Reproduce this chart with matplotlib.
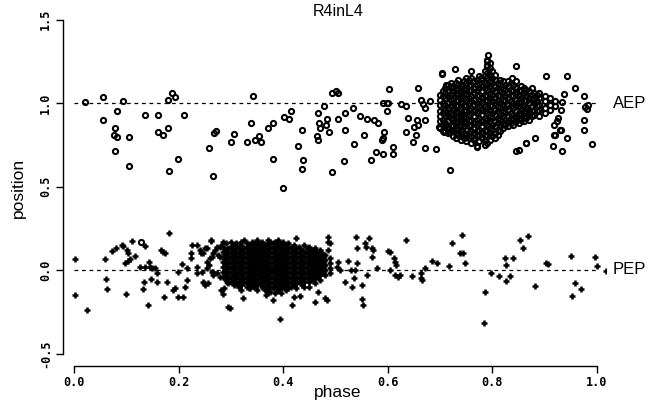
import matplotlib
matplotlib.use("Agg")
import matplotlib.pyplot as plt

# scattered AEP points (phase, position)
aep_phase = [0.021, 0.055, 0.056, 0.082, 0.078, 0.077, 0.083, 0.078, 0.094, 0.105,
             0.106, 0.136, 0.161, 0.160, 0.170, 0.179, 0.179, 0.188, 0.194, 0.211,
             0.199, 0.182, 0.259, 0.268, 0.272, 0.266, 0.301, 0.305, 0.129, 0.342,
             0.338, 0.331, 0.346, 0.354, 0.358, 0.370, 0.381, 0.381, 0.400, 0.402,
             0.412, 0.415, 0.435, 0.429, 0.438, 0.435, 0.467, 0.469, 0.470, 0.481,
             0.465, 0.467, 0.484, 0.488, 0.478, 0.493, 0.501, 0.504, 0.493, 0.505,
             0.518, 0.519, 0.517, 0.533, 0.536, 0.546, 0.554, 0.560, 0.567, 0.574,
             0.582, 0.577, 0.590, 0.593, 0.591, 0.588, 0.602, 0.590, 0.598, 0.601,
             0.598, 0.609, 0.609, 0.625, 0.634, 0.639, 0.634, 0.649, 0.655, 0.658,
             0.651, 0.654, 0.671, 0.671, 0.693, 0.658, 0.663, 0.668, 0.671, 0.681,
             0.698, 0.708, 0.719, 0.719, 0.704, 0.728, 0.771, 0.792, 0.790, 0.789,
             0.846, 0.846, 0.864, 0.881, 0.902, 0.915, 0.918, 0.931, 0.926, 0.934,
             0.942, 0.942, 0.958, 0.937, 0.934, 0.932, 0.975, 0.977, 0.983, 0.980,
             0.975, 0.975, 0.990, 0.712, 0.760, 0.779, 0.837, 0.767, 0.770, 0.709,
             0.850, 0.917, 0.923, 0.929, 0.920, 0.864, 0.703]
aep_pos = [1.008, 1.034, 0.900, 0.952, 0.849, 0.808, 0.798, 0.713, 1.012, 0.795,
           0.621, 0.926, 0.926, 0.826, 0.808, 0.849, 1.018, 1.058, 1.038, 0.926,
           0.665, 0.595, 0.731, 0.818, 0.830, 0.565, 0.768, 0.812, 0.170, 1.042,
           0.882, 0.768, 0.778, 0.802, 0.765, 0.852, 0.882, 0.665, 0.493, 0.914,
           0.904, 0.950, 0.838, 0.744, 0.659, 0.605, 0.938, 0.878, 0.852, 0.868,
           0.802, 0.778, 0.902, 0.824, 0.984, 1.058, 1.074, 1.058, 0.589, 0.902,
           0.942, 0.838, 0.654, 0.968, 0.753, 0.924, 0.808, 0.902, 0.657, 0.898,
           0.878, 0.709, 0.695, 0.824, 0.788, 0.778, 1.082, 1.002, 0.998, 0.998,
           0.954, 0.735, 0.695, 0.992, 0.984, 0.913, 0.828, 0.765, 0.898, 0.866,
           0.854, 0.808, 0.898, 0.729, 0.725, 1.088, 1.018, 0.994, 0.968, 1.012,
           0.854, 0.828, 0.824, 0.599, 1.174, 1.202, 0.735, 1.287, 1.257, 1.228,
           1.222, 0.714, 0.759, 0.788, 1.162, 0.743, 0.808, 0.838, 0.908, 0.713,
           0.788, 1.162, 1.088, 1.054, 1.008, 0.958, 1.042, 0.978, 0.988, 0.962,
           0.898, 0.838, 0.753, 1.110, 1.190, 1.150, 1.150, 0.790, 0.740, 0.830,
           0.720, 0.870, 0.890, 0.840, 0.810, 0.760, 1.180]

# dense AEP cloud, one column of positions per phase value
aep_cloud_phase = [0.700, 0.705, 0.710, 0.715, 0.720, 0.725, 0.730, 0.735, 0.740, 0.745,
                   0.750, 0.755, 0.760, 0.765, 0.770, 0.775, 0.780, 0.785, 0.790, 0.795,
                   0.800, 0.805, 0.810, 0.815, 0.820, 0.825, 0.830, 0.835, 0.840, 0.845,
                   0.850, 0.855, 0.860, 0.865, 0.870, 0.875, 0.880, 0.885, 0.890, 0.900,
                   0.910, 0.920]
aep_cloud_pos = [
    [0.85, 0.89, 0.92, 0.95, 0.99, 1.02, 1.05],
    [0.83, 0.87, 0.90, 0.94, 0.97, 1.00, 1.04, 1.07],
    [0.86, 0.88, 0.92, 0.96, 0.99, 1.03, 1.06, 1.09],
    [0.82, 0.85, 0.89, 0.93, 0.97, 1.00, 1.04, 1.08, 1.11],
    [0.84, 0.87, 0.91, 0.94, 0.98, 1.02, 1.05, 1.09, 1.12],
    [0.80, 0.83, 0.86, 0.90, 0.93, 0.96, 1.00, 1.03, 1.07, 1.10],
    [0.79, 0.82, 0.85, 0.89, 0.92, 0.95, 0.99, 1.02, 1.06, 1.09, 1.12],
    [0.81, 0.84, 0.88, 0.91, 0.94, 0.98, 1.01, 1.05, 1.08, 1.11, 1.14],
    [0.78, 0.80, 0.83, 0.87, 0.90, 0.93, 0.97, 1.00, 1.04, 1.07, 1.10],
    [0.79, 0.82, 0.86, 0.89, 0.92, 0.96, 0.99, 1.03, 1.06, 1.09, 1.13],
    [0.77, 0.81, 0.84, 0.88, 0.91, 0.95, 0.98, 1.02, 1.05, 1.08, 1.12, 1.15],
    [0.79, 0.82, 0.86, 0.89, 0.93, 0.96, 1.00, 1.03, 1.07, 1.10, 1.14],
    [0.76, 0.80, 0.83, 0.87, 0.90, 0.94, 0.97, 1.01, 1.04, 1.08, 1.11, 1.15],
    [0.78, 0.82, 0.85, 0.88, 0.92, 0.95, 0.99, 1.02, 1.06, 1.09, 1.13],
    [0.80, 0.83, 0.87, 0.90, 0.94, 0.97, 1.00, 1.04, 1.07, 1.11, 1.14],
    [0.77, 0.81, 0.84, 0.88, 0.91, 0.95, 0.98, 1.02, 1.05, 1.09, 1.12, 1.16],
    [0.79, 0.82, 0.86, 0.89, 0.93, 0.96, 1.00, 1.03, 1.07, 1.10, 1.14],
    [0.75, 0.78, 0.81, 0.84, 0.88, 0.91, 0.95, 0.98, 1.02, 1.05, 1.09, 1.12, 1.16, 1.19],
    [0.76, 0.80, 0.83, 0.87, 0.90, 0.94, 0.97, 1.01, 1.04, 1.08, 1.11, 1.15, 1.18, 1.22, 1.25],
    [0.78, 0.82, 0.85, 0.89, 0.92, 0.96, 0.99, 1.03, 1.06, 1.10, 1.13, 1.17, 1.21, 1.24],
    [0.80, 0.84, 0.87, 0.91, 0.94, 0.98, 1.01, 1.05, 1.08, 1.12, 1.15, 1.19],
    [0.79, 0.82, 0.86, 0.89, 0.93, 0.96, 1.00, 1.03, 1.07, 1.10, 1.14, 1.17],
    [0.81, 0.84, 0.88, 0.91, 0.95, 0.98, 1.02, 1.05, 1.09, 1.12],
    [0.83, 0.86, 0.90, 0.93, 0.97, 1.00, 1.04, 1.07, 1.11, 1.14],
    [0.85, 0.88, 0.92, 0.95, 0.99, 1.02, 1.06, 1.09, 1.13],
    [0.87, 0.90, 0.94, 0.97, 1.01, 1.04, 1.08, 1.11],
    [0.86, 0.89, 0.92, 0.96, 0.99, 1.03, 1.06, 1.10, 1.13],
    [0.88, 0.91, 0.94, 0.98, 1.01, 1.05, 1.08, 1.12],
    [0.87, 0.90, 0.93, 0.97, 1.00, 1.04, 1.07, 1.11],
    [0.89, 0.92, 0.95, 0.99, 1.02, 1.06, 1.09, 1.13],
    [0.88, 0.91, 0.94, 0.98, 1.01, 1.05, 1.08],
    [0.90, 0.93, 0.96, 1.00, 1.03, 1.07, 1.10],
    [0.89, 0.92, 0.95, 0.99, 1.02, 1.06, 1.09],
    [0.91, 0.94, 0.97, 1.01, 1.04, 1.08],
    [0.90, 0.93, 0.96, 1.00, 1.03, 1.07],
    [0.92, 0.95, 0.98, 1.02, 1.05, 1.09],
    [0.93, 0.96, 1.00, 1.03, 1.06],
    [0.95, 0.98, 1.01, 1.05],
    [0.92, 0.96, 0.99, 1.03, 1.06],
    [0.94, 0.97, 1.01, 1.04],
    [0.96, 0.99, 1.03],
    [0.98, 1.01],
]

# scattered PEP points
pep_phase = [0.001, 0.001, 0.024, 0.059, 0.061, 0.064, 0.072, 0.080, 0.091, 0.094,
             0.101, 0.104, 0.098, 0.104, 0.107, 0.110, 0.117, 0.099, 0.136, 0.126,
             0.136, 0.144, 0.145, 0.149, 0.155, 0.158, 0.133, 0.131, 0.147, 0.158,
             0.141, 0.166, 0.171, 0.174, 0.182, 0.177, 0.173, 0.190, 0.193, 0.198,
             0.206, 0.198, 0.209, 0.212, 0.217, 0.217, 0.224, 0.226, 0.235, 0.223,
             0.235, 0.236, 0.244, 0.241, 0.246, 0.254, 0.261, 0.266, 0.270, 0.273,
             0.279, 0.284, 0.279, 0.247, 0.250, 0.257, 0.266, 0.273, 0.254, 0.260,
             0.295, 0.287, 0.284, 0.262, 0.276, 0.282, 0.280, 0.292, 0.282, 0.249,
             0.255, 0.263, 0.266, 0.242, 0.250, 0.263, 0.259,
             0.424, 0.486, 0.485, 0.489, 0.486, 0.324, 0.298, 0.393, 0.416, 0.433,
             0.461, 0.480, 0.483, 0.467, 0.380, 0.370, 0.368, 0.340, 0.337, 0.505,
             0.502, 0.509, 0.523, 0.518, 0.529, 0.537, 0.541, 0.539, 0.542, 0.556,
             0.558, 0.565, 0.569, 0.572, 0.569, 0.535, 0.531, 0.550, 0.560, 0.550,
             0.553, 0.579, 0.601, 0.604, 0.611, 0.613, 0.615, 0.604, 0.614, 0.620,
             0.623, 0.635, 0.646, 0.663, 0.663, 0.665, 0.671, 0.684, 0.695, 0.717,
             0.723, 0.741, 0.738, 0.744, 0.748, 0.785, 0.783, 0.797, 0.813, 0.826,
             0.834, 0.824, 0.826, 0.839, 0.852, 0.858, 0.869, 0.881, 0.902, 0.906,
             0.951, 0.958, 0.969, 0.953, 0.997, 1.000, 1.017, 0.421, 0.311]
pep_pos = [0.064, -0.150, -0.240, 0.068, -0.052, -0.116, 0.114, 0.130, 0.150, 0.144,
           0.120, 0.100, 0.040, 0.054, 0.064, 0.176, 0.084, -0.146, 0.144, 0.020,
           0.020, 0.050, 0.020, 0.010, 0.010, -0.020, -0.070, -0.116, -0.054, -0.070,
           -0.210, 0.120, 0.110, 0.100, 0.220, -0.070, -0.164, -0.120, -0.110, -0.010,
           0.036, -0.164, -0.164, -0.104, -0.060, 0.010, 0.100, 0.150, 0.150, 0.070,
           0.020, -0.020, -0.010, 0.120, 0.100, 0.130, 0.176, 0.100, 0.120, 0.140,
           0.140, 0.170, 0.080, -0.070, -0.090, -0.080, -0.010, -0.020, 0.050, 0.070,
           -0.220, -0.110, -0.144, 0.180, 0.090, 0.146, -0.040, -0.070, -0.120, -0.080,
           0.010, -0.010, -0.030, 0.100, 0.130, 0.080, 0.030,
           0.194, 0.196, 0.170, 0.160, 0.120, -0.166, -0.226, -0.295, -0.210, -0.156,
           -0.190, -0.170, -0.180, -0.130, -0.180, -0.130, -0.150, -0.090, -0.110, 0.050,
           0.020, 0.000, 0.054, -0.070, 0.000, 0.000, 0.040, 0.196, 0.130, 0.160,
           0.140, 0.194, 0.130, 0.120, 0.080, -0.050, -0.100, -0.090, -0.030, -0.176,
           -0.210, 0.010, 0.116, 0.110, 0.070, 0.050, 0.030, 0.000, -0.030, -0.040,
           -0.030, 0.180, -0.034, -0.020, -0.050, -0.060, 0.010, 0.056, 0.040, 0.024,
           0.164, 0.210, 0.100, 0.100, 0.040, -0.130, -0.316, -0.020, -0.036, -0.064,
           -0.034, 0.074, 0.030, 0.070, 0.180, 0.134, 0.206, -0.096, 0.044, 0.034,
           0.086, -0.080, -0.114, -0.156, 0.076, 0.024, -0.004, -0.160, -0.090]

# dense PEP cloud
pep_cloud_phase = [0.285, 0.290, 0.295, 0.300, 0.305, 0.310, 0.315, 0.320, 0.325, 0.330,
                   0.335, 0.340, 0.345, 0.350, 0.355, 0.360, 0.365, 0.370, 0.375, 0.380,
                   0.385, 0.390, 0.395, 0.400, 0.405, 0.410, 0.415, 0.420, 0.425, 0.430,
                   0.435, 0.440, 0.445, 0.450, 0.455, 0.460, 0.465, 0.470, 0.475, 0.480,
                   0.490]
pep_cloud_pos = [
    [0.14, 0.11, 0.08, 0.05, 0.02, -0.01, -0.04],
    [0.16, 0.12, 0.09, 0.06, 0.03, 0.00, -0.03, -0.06],
    [0.13, 0.10, 0.07, 0.04, 0.01, -0.02, -0.05, -0.08],
    [0.17, 0.14, 0.11, 0.08, 0.05, 0.02, -0.01, -0.04, -0.07],
    [0.15, 0.12, 0.09, 0.06, 0.03, 0.00, -0.03, -0.06, -0.09],
    [0.16, 0.13, 0.10, 0.07, 0.04, 0.01, -0.02, -0.05, -0.08],
    [0.14, 0.11, 0.08, 0.05, 0.02, -0.01, -0.04, -0.07, -0.10],
    [0.17, 0.15, 0.12, 0.09, 0.06, 0.03, 0.00, -0.03, -0.06, -0.09, -0.12],
    [0.18, 0.13, 0.10, 0.07, 0.04, 0.01, -0.02, -0.05, -0.08],
    [0.16, 0.14, 0.11, 0.08, 0.05, 0.02, -0.01, -0.04, -0.07, -0.10],
    [0.15, 0.12, 0.09, 0.06, 0.03, 0.00, -0.03, -0.06, -0.09, -0.11],
    [0.17, 0.14, 0.11, 0.08, 0.05, 0.02, -0.01, -0.04, -0.07],
    [0.16, 0.13, 0.10, 0.07, 0.04, 0.01, -0.02, -0.05, -0.08, -0.10],
    [0.18, 0.15, 0.12, 0.09, 0.06, 0.03, 0.00, -0.03, -0.06, -0.09, -0.12],
    [0.16, 0.13, 0.10, 0.07, 0.04, 0.01, -0.02, -0.05, -0.08],
    [0.17, 0.14, 0.11, 0.08, 0.05, 0.02, -0.01, -0.04, -0.07, -0.10],
    [0.15, 0.12, 0.09, 0.06, 0.03, 0.00, -0.03, -0.06, -0.09, -0.12],
    [0.18, 0.16, 0.13, 0.10, 0.07, 0.04, 0.01, -0.02, -0.05, -0.08, -0.11],
    [0.17, 0.14, 0.11, 0.08, 0.05, 0.02, -0.01, -0.04, -0.07, -0.10, -0.13],
    [0.16, 0.13, 0.10, 0.07, 0.04, 0.01, -0.02, -0.05, -0.08, -0.11],
    [0.17, 0.14, 0.11, 0.08, 0.05, 0.02, -0.01, -0.04, -0.07, -0.10, -0.14],
    [0.18, 0.15, 0.12, 0.09, 0.06, 0.03, 0.00, -0.03, -0.06, -0.09, -0.12],
    [0.16, 0.13, 0.10, 0.07, 0.04, 0.01, -0.02, -0.05, -0.08, -0.11, -0.14],
    [0.17, 0.14, 0.11, 0.08, 0.05, 0.02, -0.01, -0.04, -0.07, -0.10],
    [0.15, 0.12, 0.09, 0.06, 0.03, 0.00, -0.03, -0.06, -0.09, -0.12],
    [0.16, 0.13, 0.10, 0.07, 0.04, 0.01, -0.02, -0.05, -0.08, -0.11],
    [0.14, 0.11, 0.08, 0.05, 0.02, -0.01, -0.04, -0.07, -0.10],
    [0.15, 0.12, 0.09, 0.06, 0.03, 0.00, -0.03, -0.06, -0.09],
    [0.13, 0.10, 0.07, 0.04, 0.01, -0.02, -0.05, -0.08, -0.11],
    [0.14, 0.11, 0.08, 0.05, 0.02, -0.01, -0.04, -0.07],
    [0.12, 0.09, 0.06, 0.03, 0.00, -0.03, -0.06, -0.09],
    [0.15, 0.11, 0.08, 0.05, 0.02, -0.01, -0.04, -0.07, -0.10],
    [0.13, 0.10, 0.07, 0.04, 0.01, -0.02, -0.05],
    [0.14, 0.11, 0.08, 0.05, 0.02, -0.01, -0.04, -0.07, -0.10],
    [0.12, 0.09, 0.06, 0.03, 0.00, -0.03, -0.06],
    [0.13, 0.10, 0.07, 0.04, 0.01, -0.02, -0.05, -0.08],
    [0.11, 0.08, 0.05, 0.02, -0.01, -0.04],
    [0.12, 0.09, 0.06, 0.03, 0.00, -0.03, -0.06],
    [0.10, 0.07, 0.04, 0.01, -0.02],
    [0.09, 0.06, 0.03, 0.00, -0.03],
    [0.07, 0.04, 0.01, -0.02],
]

x_ticks = [0.0, 0.2, 0.4, 0.6, 0.8, 1.0]
y_ticks = [-0.5, 0.0, 0.5, 1.0, 1.5]

W, H = 651, 403
fig = plt.figure(figsize=(W / 100, H / 100), dpi=100)
# axes box in pixels: left 63, right 606, top 12, bottom 366
ax = fig.add_axes([63 / W, (H - 366) / H, (606 - 63) / W, (366 - 12) / H])
ax.set_xlim((63 - 74) / 523, (606 - 74) / 523)
ax.set_ylim((270 - 366) / 167, (270 - 12) / 167)

for s in ["top", "right"]:
    ax.spines[s].set_visible(False)
ax.spines["left"].set_bounds(-0.5, 1.5)
ax.spines["bottom"].set_bounds(0.0, 1.0)
ax.spines["left"].set_linewidth(1.0)
ax.spines["bottom"].set_linewidth(1.0)

ax.plot([0, 1], [1, 1], color="black", lw=0.9, ls=(0, (3, 3)))
ax.plot([0, 1], [0, 0], color="black", lw=0.9, ls=(0, (3, 3)))

cloud_x, cloud_y = [], []
for p, col in zip(aep_cloud_phase, aep_cloud_pos):
    cloud_x += [p] * len(col)
    cloud_y += col
ax.plot(aep_phase + cloud_x, aep_pos + cloud_y, ls="none", marker="o",
        markersize=3.7, markerfacecolor="none", markeredgecolor="black",
        markeredgewidth=1.5)

cloud_x, cloud_y = [], []
for p, col in zip(pep_cloud_phase, pep_cloud_pos):
    cloud_x += [p] * len(col)
    cloud_y += col
ax.plot(pep_phase + cloud_x, pep_pos + cloud_y, ls="none", marker="+",
        markersize=4.6, color="black", markeredgewidth=1.8)

ax.set_xticks(x_ticks)
ax.set_xticklabels(["%.1f" % v for v in x_ticks], family="DejaVu Sans Mono",
                   fontsize=8.5, fontweight="bold")
ax.set_yticks(y_ticks)
ax.set_yticklabels(["%.1f" % v for v in y_ticks], family="DejaVu Sans Mono",
                   fontsize=8.5, fontweight="bold", rotation=90, va="center")
ax.tick_params(direction="out", length=5, width=1.0)
ax.tick_params(axis="x", pad=2)
ax.tick_params(axis="y", pad=3)

ax.text(1.03, 1.0, "AEP", fontsize=12, family="Liberation Sans", va="center")
ax.text(1.03, 0.0, "PEP", fontsize=12, family="Liberation Sans", va="center")

fig.text(338 / W, 1 - 12 / H, "R4inL4", fontsize=11.5, family="Liberation Sans",
         ha="center", va="center")
fig.text(338 / W, 1 - 393 / H, "phase", fontsize=12.5, family="Liberation Sans",
         ha="center", va="center")
fig.text(18 / W, 1 - 188 / H, "position", fontsize=12.5, family="Liberation Sans",
         ha="center", va="center", rotation=90)

fig.savefig("out.png", dpi=100)
